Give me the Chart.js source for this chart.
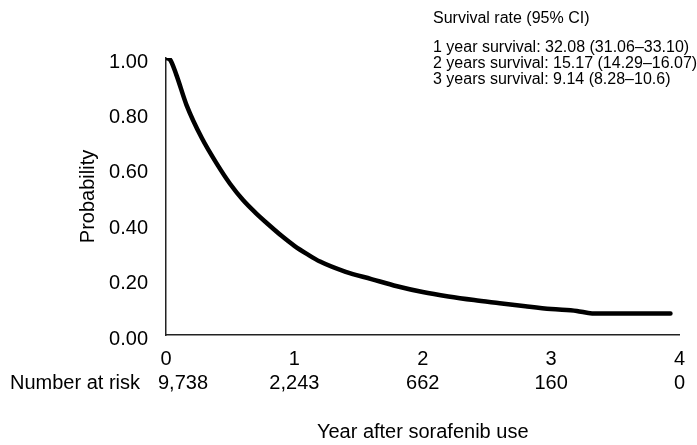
<!DOCTYPE html>
<html>
<head>
<meta charset="utf-8">
<script src="https://cdn.jsdelivr.net/npm/chart.js@4/dist/chart.umd.min.js"></script>
<style>
  html, body { margin: 0; padding: 0; background: #fff; }
  #wrap { width: 697px; height: 445px; }
</style>
</head>
<body>
<div id="wrap"><canvas id="c" width="697" height="445"></canvas></div>
<script>
// ---- data ----
const years    = [0, 0.03, 0.08, 0.16, 0.28, 0.40, 0.50, 0.60, 0.70, 0.80, 0.90, 1.00, 1.10, 1.20, 1.40, 1.60, 1.80, 2.00, 2.20, 2.40, 2.60, 2.80, 3.00, 3.20, 3.32, 3.93];
const survival = [1.00, 0.995, 0.94, 0.83, 0.71, 0.615, 0.545, 0.487, 0.44, 0.398, 0.358, 0.322, 0.292, 0.265, 0.228, 0.202, 0.176, 0.155, 0.139, 0.126, 0.115, 0.104, 0.094, 0.087, 0.078, 0.078];
const riskYears  = [0, 1, 2, 3, 4];
const riskLabels = ["9,738", "2,243", "662", "160", "0"];
const riskTitle  = "Number at risk";
const noteTitle  = "Survival rate (95% CI)";
const noteLines  = [
  "1 year survival: 32.08 (31.06\u201333.10)",
  "2 years survival: 15.17 (14.29\u201316.07)",
  "3 years survival: 9.14 (8.28\u201310.6)"
];
const xTitle = "Year after sorafenib use";
const yTitle = "Probability";

Chart.defaults.font.family = "'Liberation Sans', Arial, Helvetica, sans-serif";
Chart.defaults.color = "#000";

const textPlugin = {
  id: 'extraText',
  afterDraw(chart) {
    const ctx = chart.ctx;
    const xs = chart.scales.x;
    ctx.save();
    ctx.fillStyle = '#000';
    ctx.textBaseline = 'middle';
    // number at risk row
    ctx.font = "20px 'Liberation Sans', Arial, sans-serif";
    ctx.textAlign = 'left';
    ctx.fillText(riskTitle, 10, 383);
    riskLabels.forEach((lab, i) => {
      const px = xs.getPixelForValue(riskYears[i]);
      if (i === 0) {
        ctx.textAlign = 'left';
        ctx.fillText(lab, px - 8, 383);
      } else {
        ctx.textAlign = 'center';
        ctx.fillText(lab, px, 383);
      }
    });
    // survival note
    ctx.font = "16px 'Liberation Sans', Arial, sans-serif";
    ctx.textAlign = 'left';
    ctx.fillText(noteTitle, 433, 19);
    noteLines.forEach((t, i) => ctx.fillText(t, 433, 48 + i * 16));
    ctx.restore();
  }
};

new Chart(document.getElementById('c'), {
  type: 'line',
  data: {
    datasets: [{
      data: years.map((x, i) => ({x: x, y: survival[i]})),
      borderColor: '#000',
      borderWidth: 4.5,
      pointRadius: 0,
      fill: false,
      cubicInterpolationMode: 'monotone',
      borderCapStyle: 'round',
      borderJoinStyle: 'round'
    }]
  },
  options: {
    responsive: false,
    animation: false,
    devicePixelRatio: 1,
    layout: { padding: { left: 66, top: 58, right: 6, bottom: 0 } },
    plugins: { legend: { display: false }, tooltip: { enabled: false } },
    scales: {
      x: {
        type: 'linear',
        min: 0, max: 4,
        grid: { display: false, drawTicks: false },
        border: { display: true, color: '#222', width: 1.5 },
        ticks: { stepSize: 1, font: { size: 20 }, color: '#000', padding: 12, maxRotation: 0,
                 callback: v => String(v) },
        title: { display: true, text: xTitle, font: { size: 20 }, color: '#000', padding: { top: 0, bottom: 1 } },
        afterFit: s => { s.height = 110; }
      },
      y: {
        type: 'linear',
        min: 0, max: 1,
        grid: { display: false, drawTicks: false },
        border: { display: true, color: '#222', width: 1.5 },
        ticks: { stepSize: 0.2, font: { size: 20 }, color: '#000', padding: 18, labelOffset: 4,
                 callback: v => Number(v).toFixed(2) },
        title: { display: true, text: yTitle, font: { size: 20 }, color: '#000', padding: { top: 10, bottom: 0 } },
        afterFit: s => { s.width = 166 - 66; }
      }
    }
  },
  plugins: [textPlugin]
});
</script>
</body>
</html>
